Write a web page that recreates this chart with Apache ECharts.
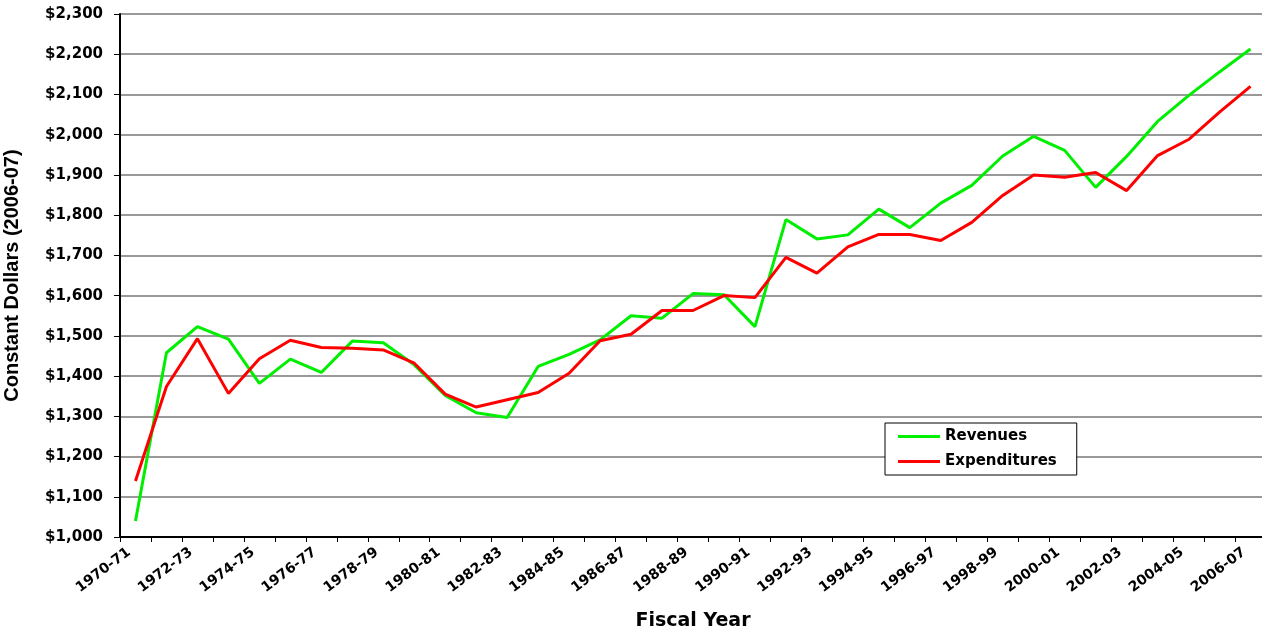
<!DOCTYPE html>
<html>
<head>
<meta charset="utf-8">
<script src="https://cdn.jsdelivr.net/npm/echarts@6/dist/echarts.min.js"></script>
<style>
html,body{margin:0;padding:0;background:#fff;}
#chart{width:1262px;height:635px;}
</style>
</head>
<body>
<div id="chart"></div>
<script>
const years = ["1970-71","1971-72","1972-73","1973-74","1974-75","1975-76","1976-77","1977-78","1978-79","1979-80","1980-81","1981-82","1982-83","1983-84","1984-85","1985-86","1986-87","1987-88","1988-89","1989-90","1990-91","1991-92","1992-93","1993-94","1994-95","1995-96","1996-97","1997-98","1998-99","1999-00","2000-01","2001-02","2002-03","2003-04","2004-05","2005-06","2006-07"];
const revenues = [1040,1458,1523,1492,1382,1442,1409,1487,1483,1428,1352,1309,1297,1424,1454,1490,1550,1544,1605,1602,1523,1789,1741,1751,1815,1769,1830,1874,1947,1996,1961,1869,1946,2033,2097,2156,2213];
const expenditures = [1139,1374,1493,1357,1443,1489,1471,1469,1465,1432,1355,1323,1341,1359,1407,1488,1504,1563,1563,1600,1595,1695,1656,1721,1752,1752,1737,1782,1849,1900,1894,1906,1861,1948,1988,2056,2120];
const yMin = 1000, yMax = 2300, yStep = 100;

const chart = echarts.init(document.getElementById('chart'));
const wide = 'DejaVu Sans, Verdana, sans-serif';
const arial = 'Liberation Sans, Arial, sans-serif';
chart.setOption({
  animation: false,
  grid: { left: 120, width: 1146, top: 14, bottom: 98, containLabel: false, outerBoundsMode: 'none' },
  legend: {
    orient: 'vertical',
    left: 885, top: 423,
    backgroundColor: '#fff',
    borderColor: '#000', borderWidth: 1,
    padding: [6, 20, 6, 13],
    itemWidth: 42, itemHeight: 3, itemGap: 10,
    textStyle: { fontFamily: wide, fontWeight: 'bold', fontSize: 15, color: '#000' },
    data: [
      { name: 'Revenues', icon: 'rect', itemStyle: { color: '#00ee00' } },
      { name: 'Expenditures', icon: 'rect', itemStyle: { color: '#ff0000' } }
    ]
  },
  xAxis: {
    type: 'category',
    data: years,
    boundaryGap: true,
    name: 'Fiscal Year',
    nameLocation: 'middle',
    nameGap: 75,
    nameTextStyle: { fontFamily: wide, fontWeight: 'bold', fontSize: 19, color: '#000' },
    axisLine: { lineStyle: { color: '#000', width: 2 } },
    axisTick: { show: true, interval: 0, length: 5, lineStyle: { color: '#000', width: 1 } },
    axisLabel: { interval: 1, rotate: 37, fontFamily: wide, fontWeight: 'bold', fontSize: 14, color: '#000', margin: 9, padding: [0, 8, 0, 0] },
    splitLine: { show: false }
  },
  yAxis: {
    type: 'value',
    min: yMin, max: yMax, interval: yStep,
    name: 'Constant Dollars (2006-07)',
    nameLocation: 'middle',
    nameGap: 98,
    nameRotate: 90,
    nameTextStyle: { fontFamily: arial, fontWeight: 'bold', fontSize: 20, color: '#000' },
    axisLine: { show: true, lineStyle: { color: '#000', width: 2 } },
    axisTick: { show: true, length: 6, lineStyle: { color: '#000', width: 1 } },
    axisLabel: {
      fontFamily: wide, fontWeight: 'bold', fontSize: 15, color: '#000', margin: 17,
      formatter: v => '$' + v.toLocaleString('en-US')
    },
    splitLine: { show: true, lineStyle: { color: '#777', width: 1.5 } }
  },
  series: [
    { name: 'Revenues', type: 'line', data: revenues, symbol: 'none', lineStyle: { color: '#00ee00', width: 3 }, itemStyle: { color: '#00ee00' } },
    { name: 'Expenditures', type: 'line', data: expenditures, symbol: 'none', lineStyle: { color: '#ff0000', width: 3 }, itemStyle: { color: '#ff0000' } }
  ]
});
</script>
</body>
</html>
